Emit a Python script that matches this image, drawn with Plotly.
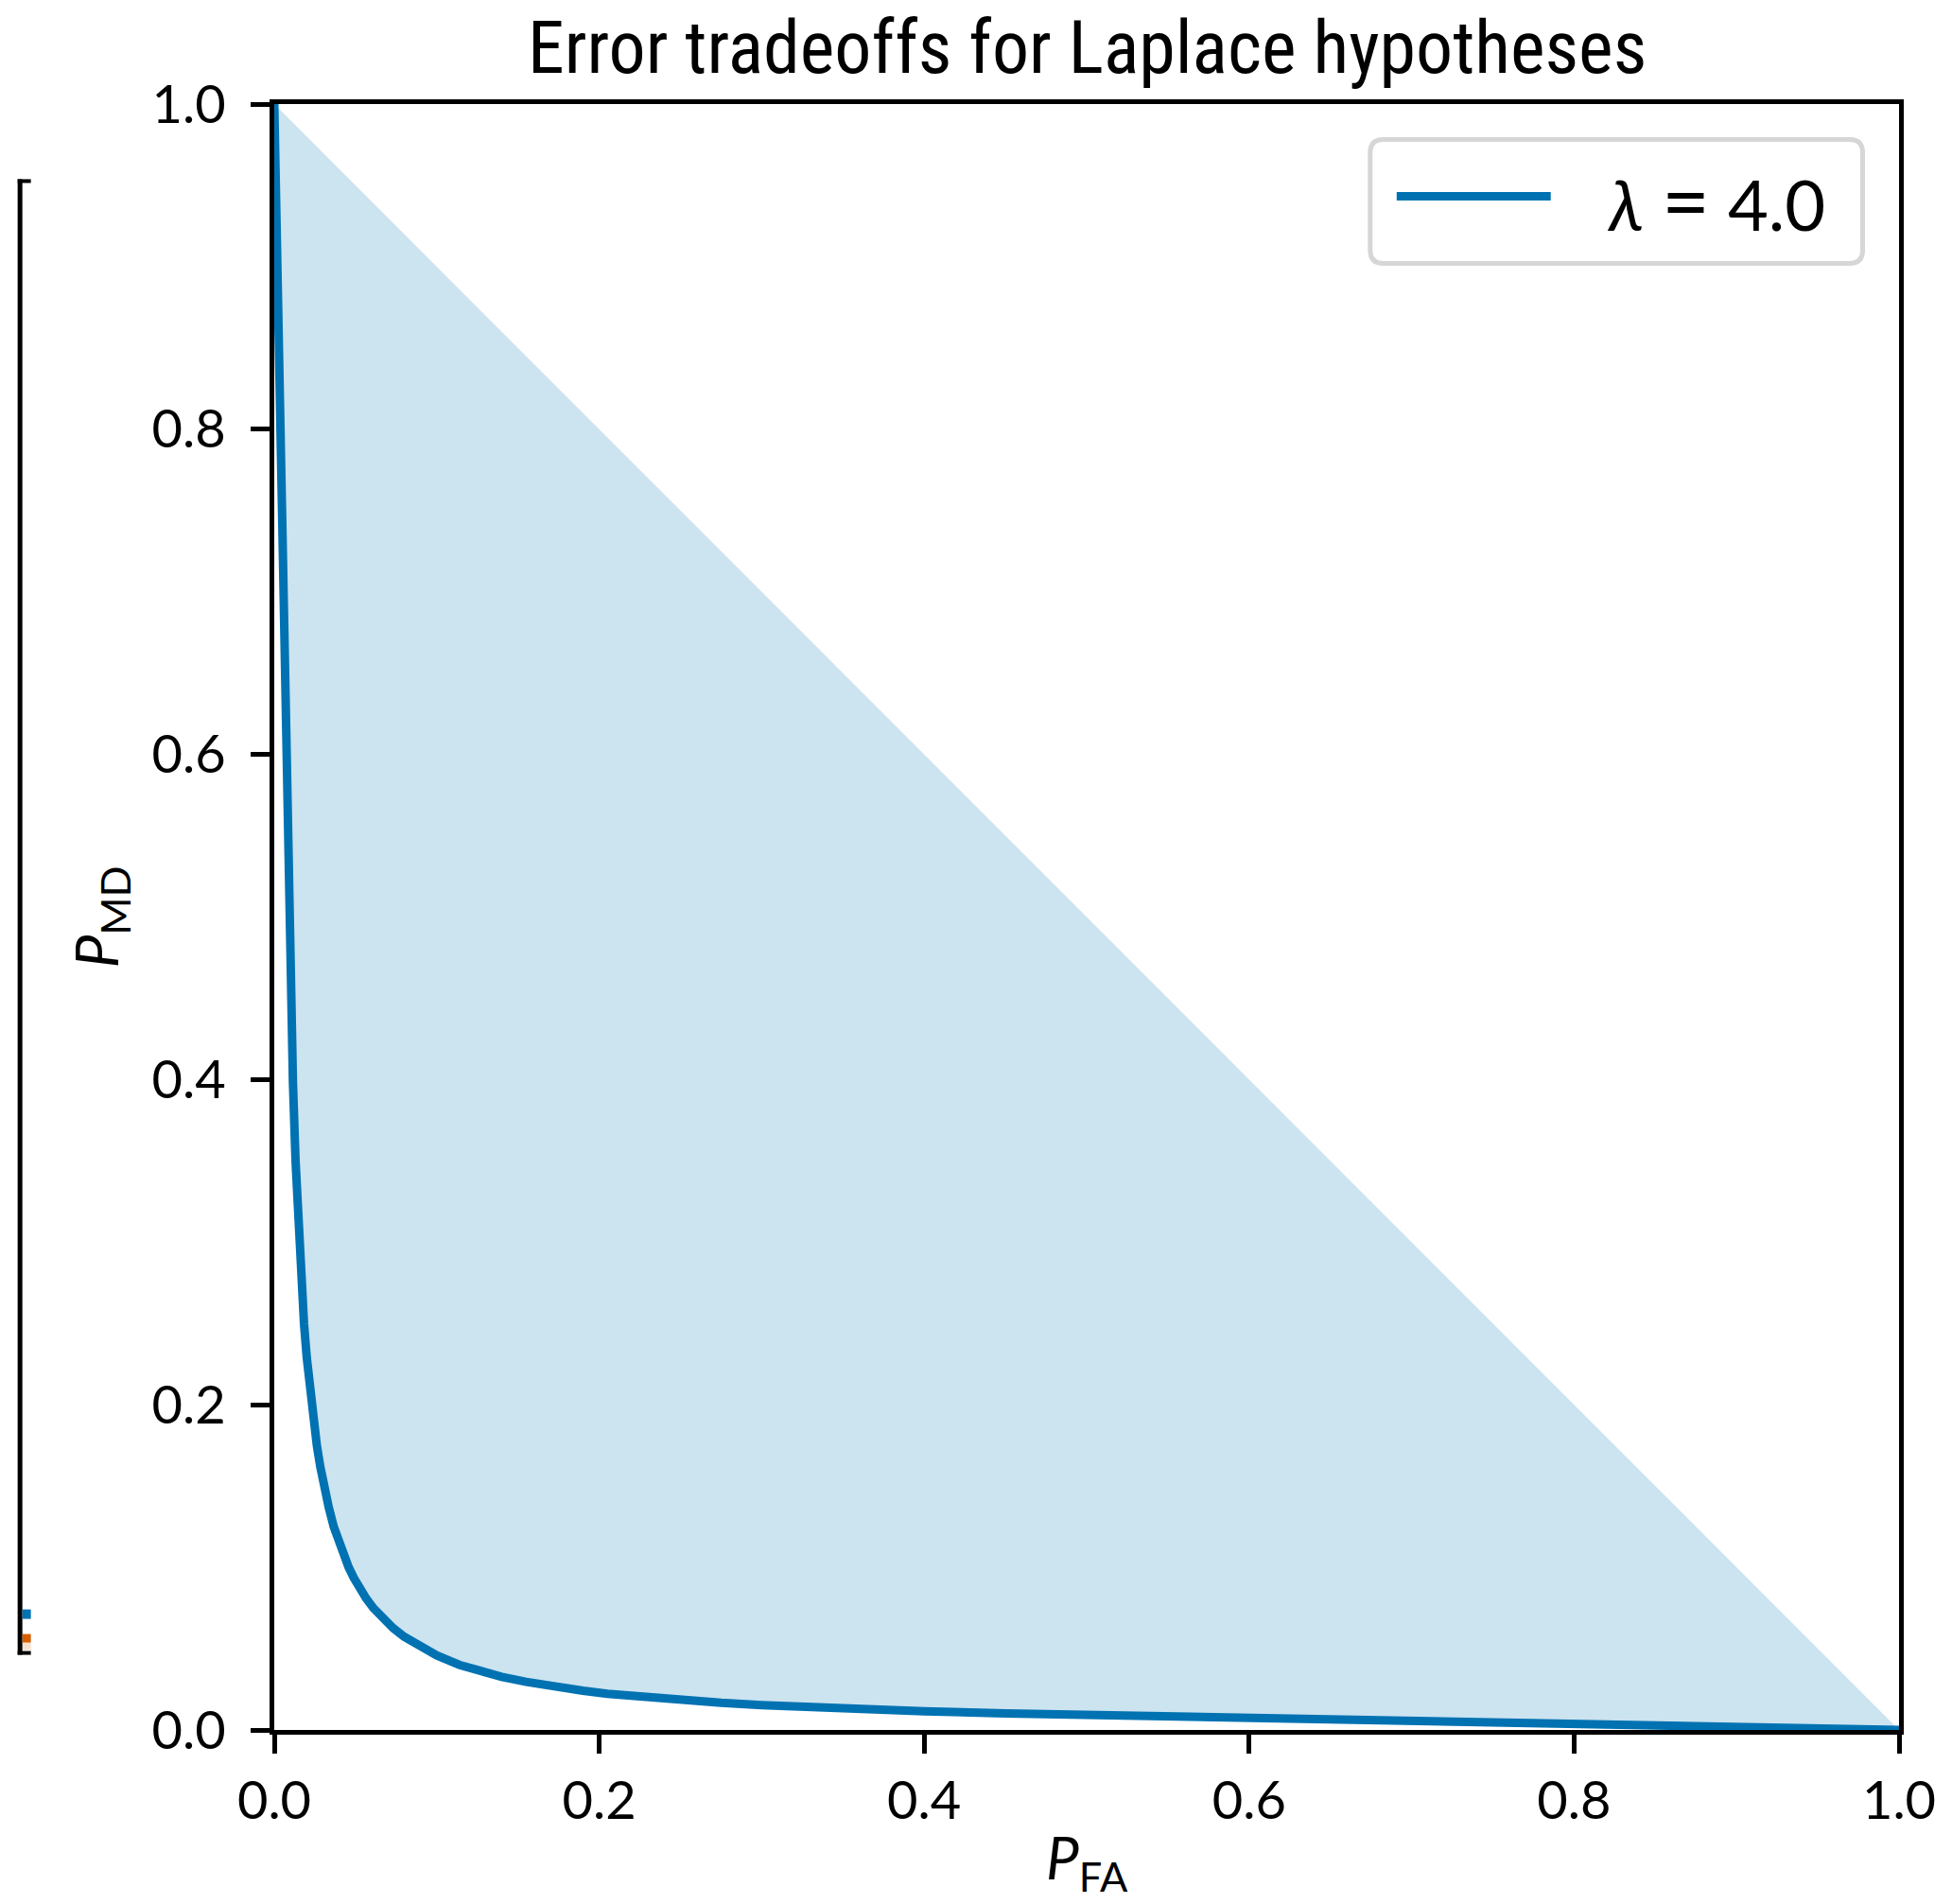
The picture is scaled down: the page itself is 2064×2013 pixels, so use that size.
import plotly.graph_objects as go

# Tradeoff curve: false-alarm probability vs. missed-detection probability
p_fa = [0.0, 0.0018, 0.0037, 0.0055, 0.0073, 0.0085, 0.0092, 0.0102, 0.0115,
        0.0131, 0.0153, 0.0183, 0.0200, 0.0229, 0.0245, 0.0262, 0.0283, 0.0305,
        0.0335, 0.0366, 0.0400, 0.0425, 0.0458, 0.0490, 0.0523, 0.0565, 0.0610,
        0.0660, 0.0732, 0.0800, 0.0916, 0.100, 0.114, 0.125, 0.140, 0.155,
        0.170, 0.190, 0.205, 0.225, 0.25, 0.275, 0.30, 0.325, 0.35, 0.40,
        0.45, 0.5, 0.6, 0.7, 0.8, 0.9, 1.0]
p_md = [1.0, 0.90, 0.80, 0.70, 0.60, 0.535, 0.498, 0.449, 0.398,
        0.35, 0.30, 0.25, 0.229, 0.20, 0.187, 0.175, 0.162, 0.15,
        0.137, 0.125, 0.1145, 0.108, 0.100, 0.0935, 0.0876, 0.081, 0.075,
        0.0694, 0.0626, 0.0573, 0.050, 0.0458, 0.040, 0.0366, 0.0327, 0.0296,
        0.0269, 0.0241, 0.0223, 0.0204, 0.0183, 0.0167, 0.0153, 0.0141, 0.0131, 0.0115,
        0.0102, 0.0092, 0.0073, 0.0055, 0.0037, 0.0018, 0.0]

lam_label = "<i>λ</i>\u00a0<span style='font-size:88px'>=</span>\u00a04.0"
tick_vals = [0.0, 0.2, 0.4, 0.6, 0.8, 1.0]

BLUE = "#0072B2"
ORANGE = "#D55E00"
TITLE_FONT = "Liberation Sans Narrow, Roboto Condensed, Lato, sans-serif"
FONT = "Lato, Open Sans, sans-serif"

W, H = 2064, 2013
L, R, T, B = 289.5, 2008.5, 109.5, 1829.5


def px(x):
    return (x - L) / (R - L)


def py(y):
    return (B - y) / (B - T)


fig = go.Figure()

# Achievable region between the tradeoff curve and the chance diagonal
fig.add_trace(go.Scatter(
    x=p_fa, y=p_md, mode="lines", fill="toself",
    fillcolor="rgba(0,114,178,0.2)", line=dict(width=0),
    hoverinfo="skip", showlegend=False,
))
fig.add_trace(go.Scatter(
    x=p_fa, y=p_md, mode="lines", line=dict(color=BLUE, width=9),
    showlegend=False,
))

axis_common = dict(
    range=[0, 1], tickvals=tick_vals, tickformat=".1f",
    showgrid=False, zeroline=False,
    showline=True, linecolor="black", linewidth=5, mirror=True,
    ticks="outside", ticklen=20, tickwidth=5, tickcolor="black",
    tickfont=dict(family=FONT, size=56, color="black"),
)

fig.update_xaxes(**axis_common, ticklabelstandoff=2)
fig.update_yaxes(**axis_common, ticklabelstandoff=15)

shapes = []
annotations = []

# Legend box with rounded corners
lx0, lx1, ly0, ly1 = 1449, 1970, 147, 278
rad = 14


def rounded_rect(xa, xb, ya, yb, rr):
    return (f"M {px(xa + rr)} {py(ya)} L {px(xb - rr)} {py(ya)} "
            f"Q {px(xb)} {py(ya)} {px(xb)} {py(ya + rr)} "
            f"L {px(xb)} {py(yb - rr)} "
            f"Q {px(xb)} {py(yb)} {px(xb - rr)} {py(yb)} "
            f"L {px(xa + rr)} {py(yb)} "
            f"Q {px(xa)} {py(yb)} {px(xa)} {py(yb - rr)} "
            f"L {px(xa)} {py(ya + rr)} "
            f"Q {px(xa)} {py(ya)} {px(xa + rr)} {py(ya)} Z")


shapes.append(dict(type="path", xref="paper", yref="paper",
                   path=rounded_rect(lx0, lx1, ly0, ly1, rad),
                   fillcolor="rgba(255,255,255,0.85)",
                   line=dict(color="#d6d6d6", width=5), layer="above"))
shapes.append(dict(type="line", xref="paper", yref="paper",
                   x0=px(1477), x1=px(1640), y0=py(207), y1=py(207),
                   line=dict(color=BLUE, width=9), layer="above"))
annotations.append(dict(xref="paper", yref="paper", x=px(1697), y=py(210),
                        xanchor="left", yanchor="middle", showarrow=False,
                        text=lam_label,
                        font=dict(family=FONT, size=74, color="black")))

# Edge of a neighbouring panel at the far left
shapes.append(dict(type="line", xref="paper", yref="paper",
                   x0=px(20.5), x1=px(20.5), y0=py(189), y1=py(1750),
                   line=dict(color="black", width=5)))
shapes.append(dict(type="line", xref="paper", yref="paper",
                   x0=px(18), x1=px(32), y0=py(191), y1=py(191),
                   line=dict(color="black", width=4)))
shapes.append(dict(type="line", xref="paper", yref="paper",
                   x0=px(18), x1=px(32), y0=py(1748), y1=py(1748),
                   line=dict(color="black", width=4)))
shapes.append(dict(type="rect", xref="paper", yref="paper",
                   x0=px(23), x1=px(32), y0=py(1702), y1=py(1712),
                   fillcolor=BLUE, line=dict(width=0)))
shapes.append(dict(type="rect", xref="paper", yref="paper",
                   x0=px(23), x1=px(32), y0=py(1728), y1=py(1737),
                   fillcolor=ORANGE, line=dict(width=0)))
shapes.append(dict(type="rect", xref="paper", yref="paper",
                   x0=px(23), x1=px(32), y0=py(1737), y1=py(1745),
                   fillcolor="rgba(213,94,0,0.2)", line=dict(width=0)))

# Title and axis labels
annotations.append(dict(xref="paper", yref="paper", x=0.5, y=py(50),
                        xanchor="center", yanchor="middle", showarrow=False,
                        text="Error tradeoffs for Laplace hypotheses",
                        font=dict(family=TITLE_FONT, size=78, color="black")))
annotations.append(dict(xref="paper", yref="paper", x=0.5, y=py(1968),
                        xanchor="center", yanchor="middle", showarrow=False,
                        text="<i>P</i><sub>FA</sub>",
                        font=dict(family=FONT, size=62, color="black")))
annotations.append(dict(xref="paper", yref="paper", x=px(105), y=py(970),
                        xanchor="center", yanchor="middle", showarrow=False,
                        textangle=-90,
                        text="<i>P</i><sub>MD</sub>",
                        font=dict(family=FONT, size=62, color="black")))

fig.update_layout(
    width=W, height=H, autosize=False,
    margin=dict(l=L, r=W - R, t=T, b=H - B, pad=0),
    paper_bgcolor="white", plot_bgcolor="white",
    shapes=shapes, annotations=annotations,
    showlegend=False,
)

fig.write_html("out.html")
